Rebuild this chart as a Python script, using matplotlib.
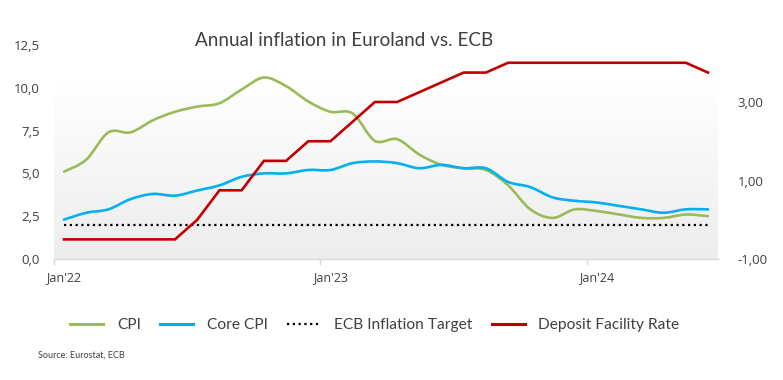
import numpy as np
import matplotlib
matplotlib.use("Agg")
import matplotlib.pyplot as plt
from matplotlib.path import Path
from matplotlib.patches import PathPatch
from matplotlib.lines import Line2D
from matplotlib.ticker import FuncFormatter, FixedLocator
from matplotlib.colors import LinearSegmentedColormap

# ---------------- data (monthly, Jan 2022 - Jun 2024) ----------------
months = ["Jan'22", "Feb'22", "Mar'22", "Apr'22", "May'22", "Jun'22", "Jul'22", "Aug'22",
          "Sep'22", "Oct'22", "Nov'22", "Dec'22", "Jan'23", "Feb'23", "Mar'23", "Apr'23",
          "May'23", "Jun'23", "Jul'23", "Aug'23", "Sep'23", "Oct'23", "Nov'23", "Dec'23",
          "Jan'24", "Feb'24", "Mar'24", "Apr'24", "May'24", "Jun'24"]
cpi = [5.1, 5.8, 7.4, 7.4, 8.1, 8.6, 8.9, 9.1, 9.9, 10.6, 10.1, 9.2,
       8.6, 8.5, 6.9, 7.0, 6.1, 5.5, 5.3, 5.2, 4.3, 2.9, 2.4, 2.9,
       2.8, 2.6, 2.4, 2.4, 2.6, 2.5]
core_cpi = [2.3, 2.7, 2.9, 3.5, 3.8, 3.7, 4.0, 4.3, 4.8, 5.0, 5.0, 5.2,
            5.2, 5.6, 5.7, 5.6, 5.3, 5.5, 5.3, 5.3, 4.5, 4.2, 3.6, 3.4,
            3.3, 3.1, 2.9, 2.7, 2.9, 2.9]
ecb_target = [2.0] * 30
deposit_rate = [-0.5, -0.5, -0.5, -0.5, -0.5, -0.5, 0.0, 0.75, 0.75, 1.5, 1.5, 2.0,
                2.0, 2.5, 3.0, 3.0, 3.25, 3.5, 3.75, 3.75, 4.0, 4.0, 4.0, 4.0,
                4.0, 4.0, 4.0, 4.0, 4.0, 3.75]
xtick_labels = ["Jan'22", "Jan'23", "Jan'24"]
left_ticks = [0, 2.5, 5.0, 7.5, 10.0, 12.5]
right_ticks = [-1, 1, 3]

title = "Annual inflation in Euroland vs. ECB"
source = "Source: Eurostat, ECB"

GREEN = "#9bbb59"
BLUE = "#00b0f0"
RED = "#c00000"
TXT = "#404040"

FONT = "Lato"
TICKFONT = "Open Sans"


def smooth_path(xs, ys):
    """Excel-like smoothed line: cubic Bezier through the points."""
    pts = np.column_stack([xs, ys]).astype(float)
    n = len(pts)
    verts = [pts[0]]
    codes = [Path.MOVETO]
    for i in range(n - 1):
        p0 = pts[i - 1] if i > 0 else pts[i]
        p1 = pts[i]
        p2 = pts[i + 1]
        p3 = pts[i + 2] if i + 2 < n else pts[i + 1]
        c1 = p1 + (p2 - p0) / 6.0
        c2 = p2 - (p3 - p1) / 6.0
        verts += [c1, c2, p2]
        codes += [Path.CURVE4] * 3
    return Path(verts, codes)


fig = plt.figure(figsize=(7.83, 3.80), dpi=100)
ax = fig.add_axes([54 / 783, 1 - 259 / 380, 664 / 783, 214 / 380])
ax2 = ax.twinx()

x = np.arange(len(months))
ax.set_xlim(-0.45, 29.45)
ax.set_ylim(0, 12.5)
ax2.set_ylim(-1, -1 + 214 / 39.25)

# gradient plot-area background
grad = np.linspace(0, 1, 256).reshape(-1, 1)
cmap = LinearSegmentedColormap.from_list("g", ["#ededed", "#ffffff"])
ax.imshow(grad, extent=[0, 1, 0, 0.83], transform=ax.transAxes, cmap=cmap,
          origin="lower", aspect="auto", zorder=0)

ax.add_patch(PathPatch(smooth_path(x, cpi), fill=False, edgecolor=GREEN, lw=1.9,
                       transform=ax.transData, zorder=3, capstyle="round"))
ax.add_patch(PathPatch(smooth_path(x, core_cpi), fill=False, edgecolor=BLUE, lw=1.9,
                       transform=ax.transData, zorder=3, capstyle="round"))
ax.plot(x, ecb_target, color="black", lw=1.6, linestyle=(0, (1, 1.6)), zorder=2)
ax2.plot(x, deposit_rate, color=RED, lw=1.9, zorder=4, solid_joinstyle="miter")

# spines
for a in (ax, ax2):
    for s in ("top", "left", "right", "bottom"):
        a.spines[s].set_visible(False)
    a.patch.set_visible(False)
ax.axhline(0, color="#d9d9d9", lw=1.0, zorder=1, clip_on=False)

# x ticks
ax.set_xticks([0, 12, 24])
ax.set_xticklabels(xtick_labels)
ax.xaxis.set_minor_locator(FixedLocator([-0.45, 11.55, 23.55]))
ax.tick_params(axis="x", which="major", length=0, pad=9, labelsize=9, labelcolor=TXT)
ax.tick_params(axis="x", which="minor", length=4, color="#d9d9d9", width=1)
for lbl in ax.get_xticklabels():
    lbl.set_fontfamily(TICKFONT)

# y ticks
ax.set_yticks(left_ticks)
ax.yaxis.set_major_formatter(FuncFormatter(lambda v, p: f"{v:.1f}".replace(".", ",")))
ax.tick_params(axis="y", length=0, pad=10, labelsize=9.5, labelcolor=TXT)
ax2.set_yticks(right_ticks)
ax2.yaxis.set_major_formatter(FuncFormatter(lambda v, p: f"{v:.2f}".replace(".", ",")))
ax2.tick_params(axis="y", length=0, pad=14, labelsize=9.5, labelcolor=TXT)
for lbl in ax.get_yticklabels() + ax2.get_yticklabels():
    lbl.set_fontfamily(TICKFONT)

# title
fig.text(344 / 783, 1 - 41 / 380, title, ha="center", va="center",
         fontsize=13.6, color=TXT, family=FONT)

# legend
handles = [
    Line2D([], [], color=GREEN, lw=2.2),
    Line2D([], [], color=BLUE, lw=2.2),
    Line2D([], [], color="black", lw=1.6, linestyle=(0, (1, 1.6))),
    Line2D([], [], color=RED, lw=2.2),
]
labels = ["CPI", "Core CPI", "ECB Inflation Target", "Deposit Facility Rate"]
fig.legend(handles, labels, loc="center", bbox_to_anchor=(375 / 783, 1 - 325 / 380),
           ncol=4, frameon=False, prop={"family": FONT, "size": 11.2},
           labelcolor=TXT, handlelength=2.1, handletextpad=0.9, columnspacing=1.25)

fig.text(38 / 783, 1 - 355 / 380, source, ha="left", va="center",
         fontsize=6.5, color=TXT, family=FONT)

fig.savefig("out.png", dpi=100)
